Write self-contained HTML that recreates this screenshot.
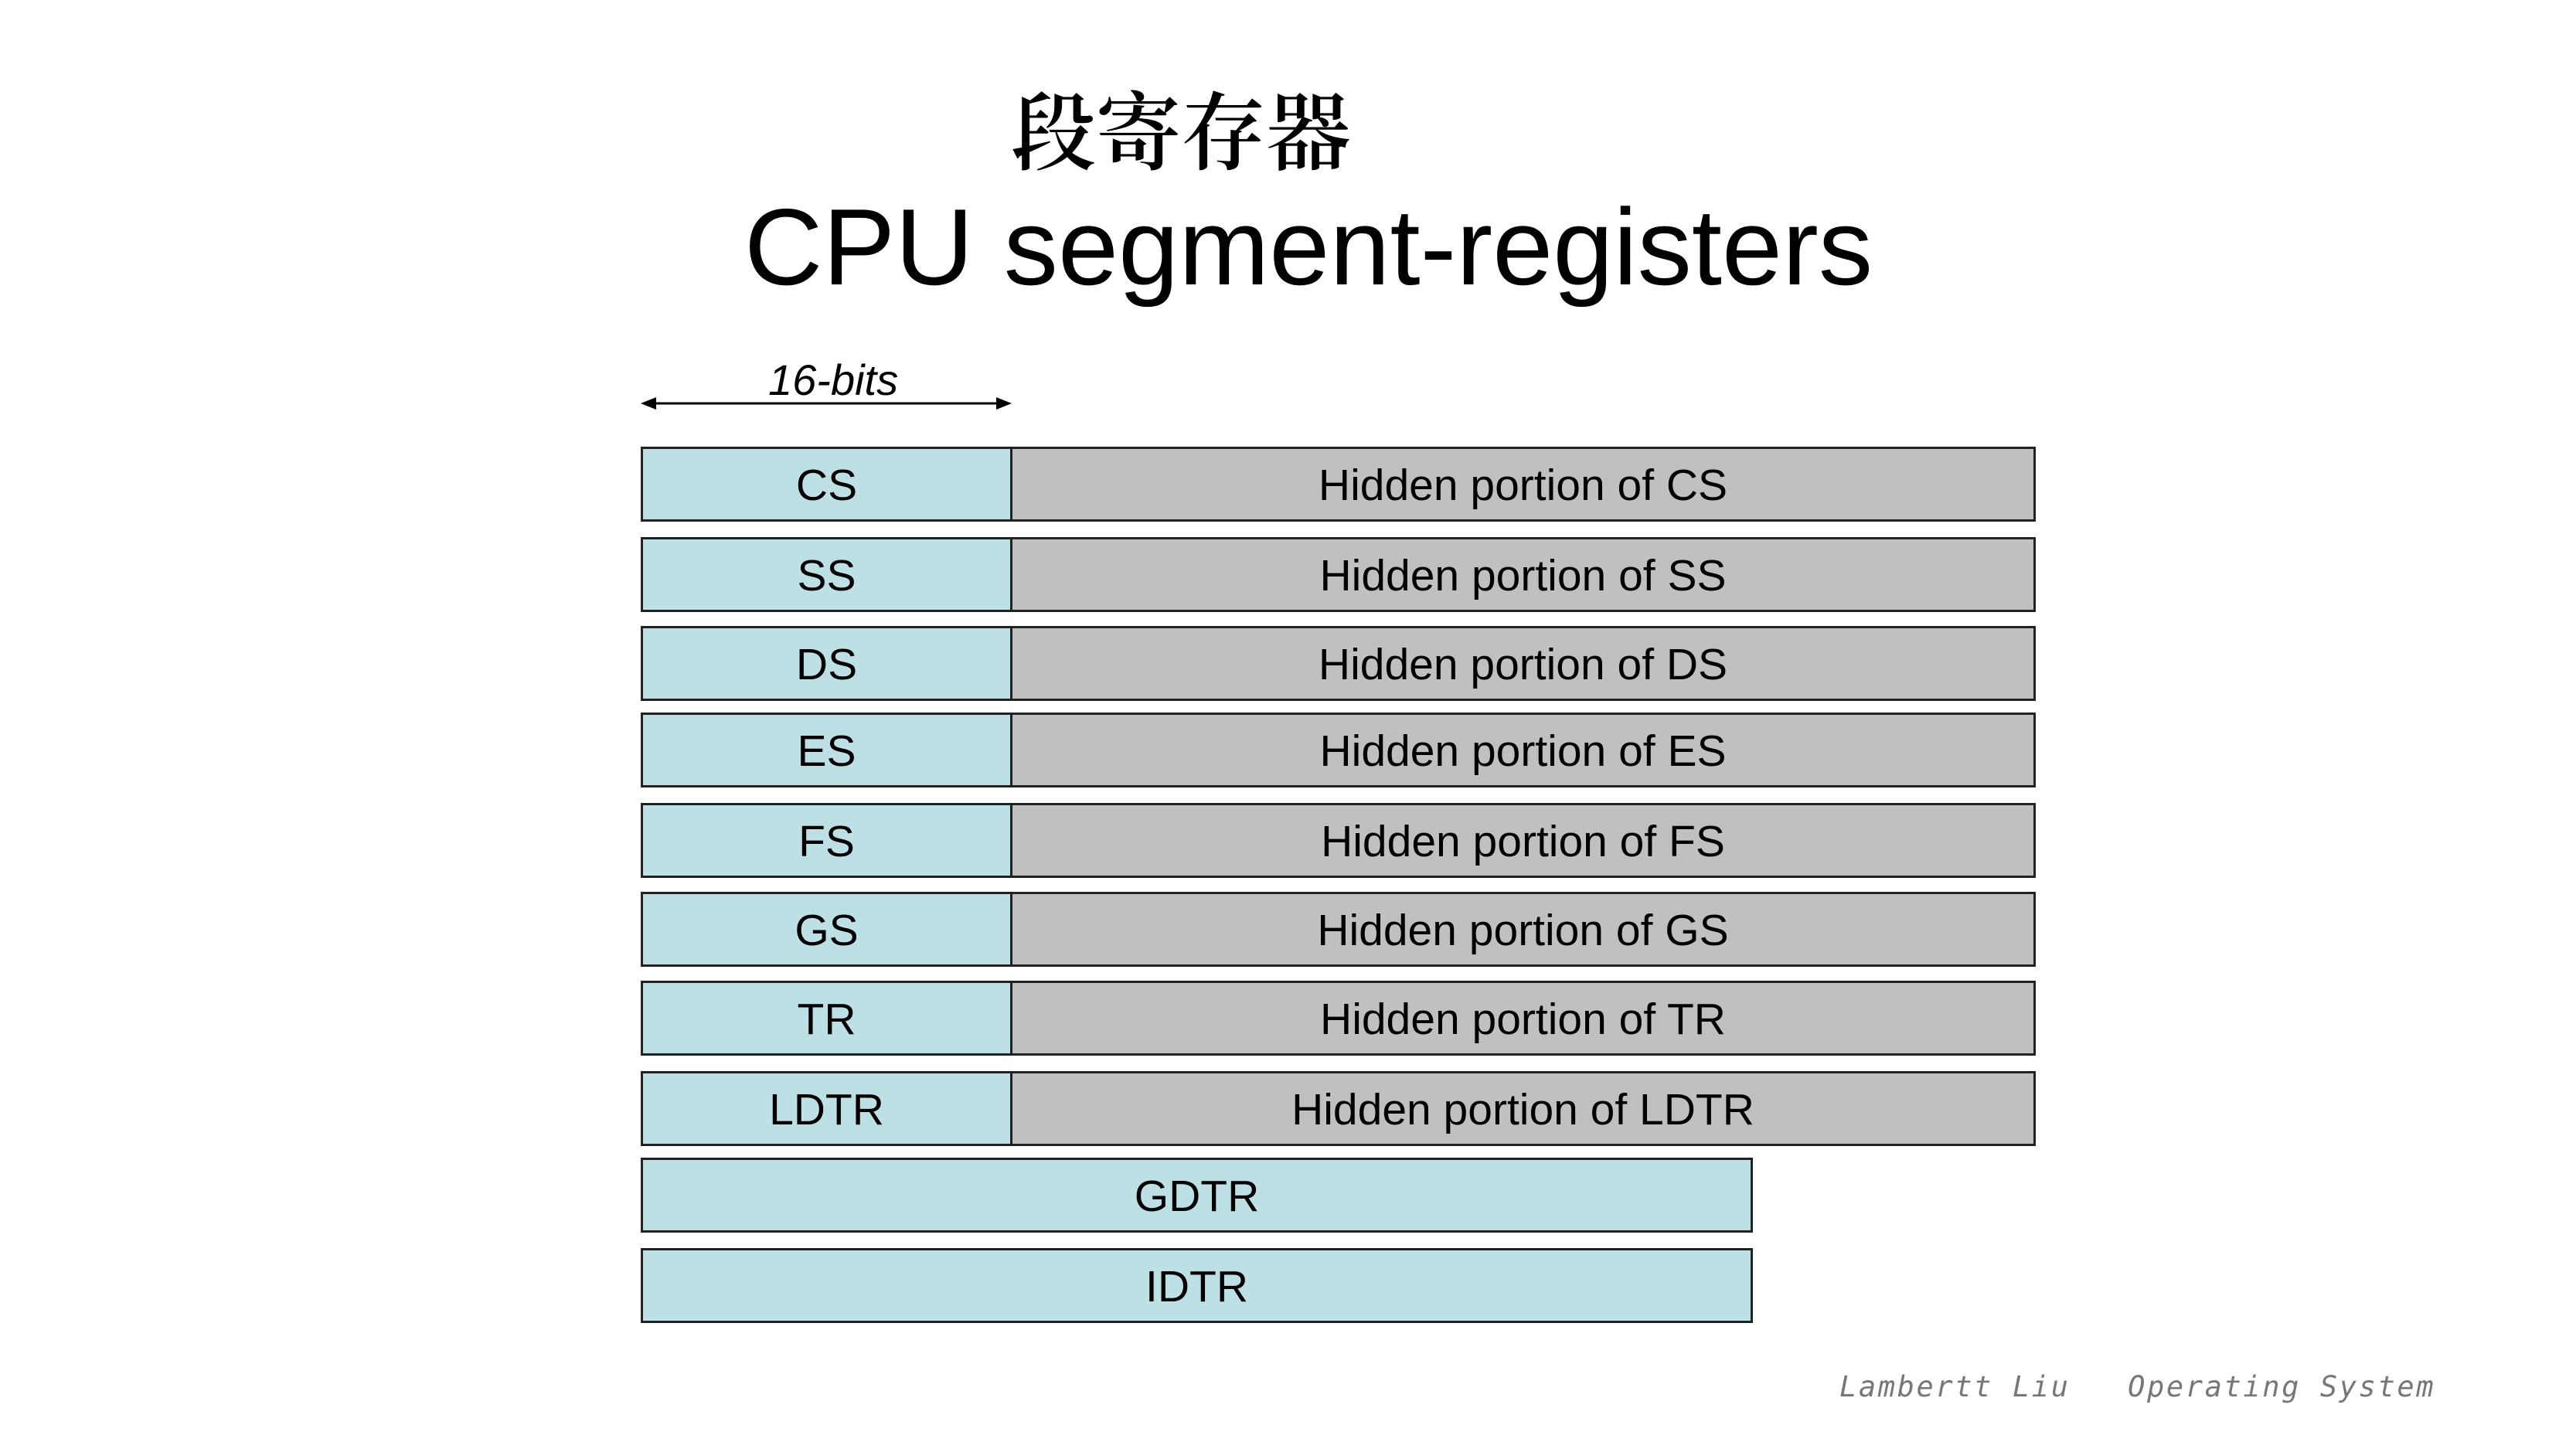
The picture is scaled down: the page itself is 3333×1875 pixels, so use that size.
<!DOCTYPE html>
<html><head><meta charset="utf-8"><style>
body{margin:0;width:3333px;height:1875px;background:#fff;position:relative;overflow:hidden;font-family:"Liberation Sans",sans-serif;}
.a{position:absolute;}
.r{position:absolute;box-sizing:border-box;border:3px solid #222;font-size:57px;color:#000;display:flex;align-items:center;justify-content:center;padding-top:3px;}
.c{background:#bce0e4;}
.g{background:#c0c0c0;}
</style></head><body>
<div class="a" style="left:1308px;top:99px;font-family:'Noto Serif CJK SC','WenQuanYi Zen Hei',serif;font-size:110px;font-weight:600;line-height:130px;color:#000;white-space:nowrap">段寄存器</div>
<div class="a" style="left:963px;top:235px;font-size:140.5px;line-height:170px;white-space:nowrap;color:#000">CPU segment-registers</div>
<div class="a" style="left:994px;top:457px;font-size:56px;font-style:italic;line-height:70px;white-space:nowrap">16-bits</div>
<svg class="a" style="left:0;top:0" width="3333" height="1875">
<line x1="838" y1="522" x2="1300" y2="522" stroke="#000" stroke-width="3"/>
<polygon points="829,522 849,514 849,530" fill="#000"/>
<polygon points="1309,522 1289,514 1289,530" fill="#000"/>
</svg>
<div class="r c" style="left:829px;top:578px;width:481px;height:97px">CS</div>
<div class="r g" style="left:1307px;top:578px;width:1327px;height:97px">Hidden portion of CS</div>
<div class="r c" style="left:829px;top:695px;width:481px;height:97px">SS</div>
<div class="r g" style="left:1307px;top:695px;width:1327px;height:97px">Hidden portion of SS</div>
<div class="r c" style="left:829px;top:810px;width:481px;height:97px">DS</div>
<div class="r g" style="left:1307px;top:810px;width:1327px;height:97px">Hidden portion of DS</div>
<div class="r c" style="left:829px;top:922px;width:481px;height:97px">ES</div>
<div class="r g" style="left:1307px;top:922px;width:1327px;height:97px">Hidden portion of ES</div>
<div class="r c" style="left:829px;top:1039px;width:481px;height:97px">FS</div>
<div class="r g" style="left:1307px;top:1039px;width:1327px;height:97px">Hidden portion of FS</div>
<div class="r c" style="left:829px;top:1154px;width:481px;height:97px">GS</div>
<div class="r g" style="left:1307px;top:1154px;width:1327px;height:97px">Hidden portion of GS</div>
<div class="r c" style="left:829px;top:1269px;width:481px;height:97px">TR</div>
<div class="r g" style="left:1307px;top:1269px;width:1327px;height:97px">Hidden portion of TR</div>
<div class="r c" style="left:829px;top:1386px;width:481px;height:97px">LDTR</div>
<div class="r g" style="left:1307px;top:1386px;width:1327px;height:97px">Hidden portion of LDTR</div>
<div class="r c" style="left:829px;top:1498px;width:1439px;height:97px">GDTR</div>
<div class="r c" style="left:829px;top:1615px;width:1439px;height:97px">IDTR</div>
<div class="a" style="left:2380px;top:1772px;font-family:'DejaVu Sans Mono',monospace;font-style:italic;font-size:37px;letter-spacing:2.6px;color:#777;white-space:pre;line-height:46px">Lambertt Liu   Operating System</div>
</body></html>
